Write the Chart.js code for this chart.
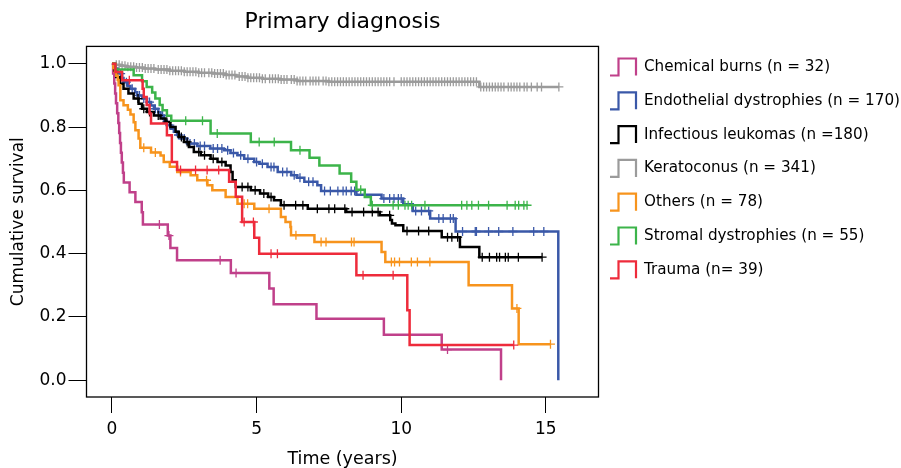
<!DOCTYPE html>
<html><head><meta charset="utf-8">
<script src="https://cdn.jsdelivr.net/npm/chart.js@4.4.1/dist/chart.umd.min.js"></script>
<style>html,body{margin:0;padding:0;background:#fff;}#wrap{width:901px;height:468px;}</style>
</head><body><div id="wrap"><canvas id="c" width="901" height="468"></canvas></div>
<script>
// ---------- data ----------
const chartTitle = 'Primary diagnosis';
const xTitle = 'Time (years)';
const yTitle = 'Cumulative survival';
const xTickValues = [0, 5, 10, 15];
const xTickLabels = ['0', '5', '10', '15'];
const yTickValues = [0, 0.2, 0.4, 0.6, 0.8, 1.0];
const yTickLabels = ['0.0', '0.2', '0.4', '0.6', '0.8', '1.0'];

const categories = ['Chemical burns (n = 32)', 'Endothelial dystrophies (n = 170)', 'Infectious leukomas (n =180)',
  'Keratoconus (n = 341)', 'Others (n = 78)', 'Stromal dystrophies (n = 55)', 'Trauma (n= 39)'];
const colors = ['#C0408A', '#3A58A8', '#000000', '#9B9B9B', '#F7941D', '#3CB44A', '#EE2B3B'];

const chemTimes = [0, 0.04, 0.08, 0.11, 0.14, 0.18, 0.22, 0.25, 0.28, 0.31, 0.34, 0.38, 0.41, 0.61, 0.81, 1.03, 1.07, 1.93, 2.02, 2.25, 4.11, 5.44, 5.59, 7.07, 9.4, 11.4, 13.45];
const chemSurv = [1, 0.969, 0.938, 0.906, 0.875, 0.844, 0.813, 0.781, 0.75, 0.719, 0.688, 0.656, 0.625, 0.594, 0.563, 0.531, 0.492, 0.457, 0.418, 0.379, 0.339, 0.29, 0.24, 0.194, 0.144, 0.097, 0];
const chemCensor = [1.64, 1.97, 3.74, 4.29, 11.6];

const endoTimes = [0, 0.1, 0.2, 0.35, 0.4, 0.55, 0.64, 0.8, 0.87, 1.05, 1.21, 1.35, 1.45, 1.6, 1.68, 1.8, 1.9, 2.05, 2.14, 2.25, 2.37, 2.6, 2.95, 3.4, 3.87, 4.1, 4.34, 4.57, 4.92, 5.1, 5.38, 5.73, 6.2, 6.4, 6.65, 7.1, 7.23, 8.45, 9.32, 10.07, 10.4, 11.0, 11.88, 15.43];
const endoSurv = [1, 0.985, 0.969, 0.955, 0.942, 0.93, 0.921, 0.91, 0.9, 0.89, 0.879, 0.868, 0.858, 0.847, 0.837, 0.82, 0.806, 0.795, 0.785, 0.775, 0.764, 0.748, 0.74, 0.732, 0.727, 0.718, 0.711, 0.7, 0.69, 0.684, 0.674, 0.658, 0.648, 0.64, 0.627, 0.616, 0.598, 0.586, 0.574, 0.556, 0.535, 0.511, 0.47, 0];
const endoCensor = [0.3, 0.5, 0.7, 0.95, 1.1, 1.3, 1.5, 1.75, 2.0, 2.3, 2.5, 2.7, 2.85, 3.05, 3.2, 3.5, 3.65, 3.8, 4.0, 4.2, 4.45, 4.7, 5.0, 5.2, 5.5, 5.6, 5.9, 6.05, 6.3, 6.5, 6.8, 6.95, 7.35, 7.55, 7.81, 7.99, 8.1, 8.27, 8.39, 9.4, 9.6, 9.75, 9.9, 10.0, 10.5, 10.7, 10.95, 11.3, 11.45, 11.7, 11.8, 12.12, 12.56, 12.6, 13.02, 13.37, 13.86, 14.58, 14.93];

const infTimes = [0, 0.08, 0.15, 0.28, 0.4, 0.57, 0.75, 0.92, 1.04, 1.21, 1.45, 1.68, 1.85, 2.02, 2.2, 2.31, 2.49, 2.66, 2.83, 3.07, 3.41, 3.65, 3.93, 4.1, 4.17, 4.28, 4.8, 5.12, 5.4, 5.6, 5.84, 6.77, 8.1, 9.26, 9.62, 9.68, 9.8, 10.07, 11.4, 12.03, 12.7, 14.87];
const infSurv = [1, 0.979, 0.958, 0.937, 0.921, 0.906, 0.89, 0.874, 0.858, 0.848, 0.837, 0.827, 0.816, 0.8, 0.785, 0.769, 0.753, 0.737, 0.721, 0.711, 0.7, 0.69, 0.679, 0.658, 0.632, 0.611, 0.6, 0.59, 0.579, 0.569, 0.553, 0.542, 0.532, 0.521, 0.506, 0.495, 0.49, 0.472, 0.452, 0.421, 0.389, 0.389];
const infCensor = [0.9, 1.1, 1.3, 1.6, 1.9, 2.4, 2.6, 3.0, 3.2, 3.5, 3.8, 4.5, 4.7, 4.95, 5.25, 5.5, 5.95, 6.35, 6.6, 7.1, 7.5, 7.7, 8.05, 8.3, 8.7, 9.0, 9.2, 9.6, 10.2, 10.6, 10.95, 11.6, 11.75, 11.95, 12.8, 13.05, 13.3, 13.4, 13.6, 13.7, 14.05, 14.87];

const kerTimes = [0, 0.1, 0.3, 0.5, 0.8, 1.1, 1.5, 2.0, 2.5, 3.0, 3.5, 3.9, 4.3, 4.7, 5.2, 5.8, 6.4, 7.5, 12.7, 15.45];
const kerSurv = [1, 0.997, 0.994, 0.991, 0.988, 0.985, 0.982, 0.978, 0.975, 0.972, 0.969, 0.965, 0.96, 0.956, 0.953, 0.95, 0.946, 0.943, 0.927, 0.927];
const kerCensor = [0.15, 0.25, 0.35, 0.45, 0.55, 0.65, 0.75, 0.85, 0.95, 1.05, 1.15, 1.25, 1.35, 1.45, 1.6, 1.7, 1.8, 1.9, 2.0, 2.1, 2.2, 2.3, 2.4, 2.5, 2.6, 2.7, 2.8, 2.9, 3.0, 3.1, 3.2, 3.35, 3.45, 3.55, 3.65, 3.75, 3.85, 3.95, 4.05, 4.15, 4.25, 4.4, 4.5, 4.6, 4.7, 4.8, 4.9, 5.0, 5.1, 5.2, 5.3, 5.45, 5.55, 5.65, 5.75, 5.85, 5.95, 6.05, 6.2, 6.3, 6.4, 6.5, 6.6, 6.7, 6.85, 6.95, 7.05, 7.15, 7.3, 7.4, 7.5, 7.6, 7.7, 7.8, 7.9, 8.0, 8.1, 8.2, 8.3, 8.4, 8.5, 8.6, 8.7, 8.8, 8.9, 9.0, 9.1, 9.2, 9.3, 9.4, 9.5, 9.6, 9.75, 10.0, 10.1, 10.2, 10.3, 10.4, 10.5, 10.6, 10.7, 10.8, 10.9, 11.0, 11.1, 11.2, 11.3, 11.4, 11.5, 11.6, 11.7, 11.8, 11.9, 12.0, 12.1, 12.2, 12.3, 12.4, 12.5, 12.6, 12.75, 12.85, 12.95, 13.05, 13.15, 13.25, 13.35, 13.45, 13.55, 13.7, 13.8, 13.9, 14.0, 14.1, 14.25, 14.35, 14.5, 14.7, 14.85, 15.45];

const othTimes = [0, 0.05, 0.1, 0.15, 0.2, 0.23, 0.29, 0.4, 0.55, 0.64, 0.75, 0.81, 0.92, 0.98, 1.35, 1.68, 1.79, 2.0, 2.26, 2.72, 2.95, 3.3, 3.47, 3.93, 4.34, 4.92, 5.84, 6.0, 6.17, 6.19, 7.0, 9.32, 9.45, 12.33, 13.83, 14.06, 15.16];
const othSurv = [1, 0.987, 0.974, 0.962, 0.949, 0.932, 0.885, 0.869, 0.855, 0.84, 0.815, 0.79, 0.764, 0.735, 0.72, 0.71, 0.69, 0.675, 0.658, 0.648, 0.632, 0.616, 0.6, 0.579, 0.558, 0.542, 0.516, 0.5, 0.484, 0.458, 0.437, 0.405, 0.374, 0.3, 0.227, 0.114, 0.114];
const othCensor = [1.1, 1.5, 2.37, 3.27, 4.57, 4.69, 5.43, 6.36, 7.23, 7.4, 8.28, 8.37, 9.66, 9.77, 9.94, 10.35, 10.56, 10.99, 14.0, 15.16];

const strTimes = [0, 0.12, 0.75, 1.04, 1.2, 1.39, 1.5, 1.65, 1.75, 1.9, 2.05, 3.41, 4.8, 6.19, 6.83, 7.17, 7.87, 8.27, 8.45, 8.74, 8.95, 14.35];
const strSurv = [1, 0.982, 0.964, 0.945, 0.927, 0.909, 0.89, 0.87, 0.853, 0.836, 0.82, 0.78, 0.753, 0.727, 0.703, 0.679, 0.653, 0.627, 0.602, 0.579, 0.553, 0.553];
const strCensor = [2.55, 3.13, 3.64, 5.09, 5.61, 6.5, 8.6, 9.0, 9.72, 9.9, 10.13, 10.24, 10.36, 10.82, 12.09, 12.27, 12.44, 12.67, 13.02, 13.66, 13.94, 14.06, 14.24, 14.35];

const traTimes = [0, 0.12, 0.35, 1.06, 1.1, 1.2, 1.3, 1.35, 1.9, 2.07, 2.25, 4.05, 4.28, 4.5, 4.92, 5.09, 8.45, 10.21, 10.29, 13.89];
const traSurv = [1, 0.974, 0.948, 0.921, 0.895, 0.87, 0.843, 0.811, 0.774, 0.69, 0.664, 0.627, 0.58, 0.5, 0.45, 0.4, 0.332, 0.221, 0.111, 0.111];
const traCensor = [0.6, 2.37, 2.89, 3.29, 3.69, 4.57, 4.89, 5.5, 5.72, 8.68, 9.72, 13.89];

const seriesTimes = [chemTimes, endoTimes, infTimes, kerTimes, othTimes, strTimes, traTimes];
const seriesSurv = [chemSurv, endoSurv, infSurv, kerSurv, othSurv, strSurv, traSurv];
const seriesCensor = [chemCensor, endoCensor, infCensor, kerCensor, othCensor, strCensor, traCensor];

// ---------- chart ----------
const FONT = "'DejaVu Sans', 'Liberation Sans', sans-serif";
function survAt(times, surv, t) {
  let s = surv[0];
  for (let i = 0; i < times.length; i++) { if (times[i] <= t) s = surv[i]; else break; }
  return s;
}
const datasets = [];
categories.forEach((name, i) => {
  const T = seriesTimes[i], S = seriesSurv[i];
  datasets.push({
    label: name, isCurve: true,
    data: T.map((t, k) => ({ x: t, y: S[k] })),
    stepped: 'before', borderColor: colors[i], borderWidth: 2.5,
    pointRadius: 0, fill: false, order: 100 - 2 * i
  });
  datasets.push({
    label: '', isCurve: false,
    data: seriesCensor[i].map(t => ({ x: t, y: survAt(T, S, t) })),
    showLine: false, pointStyle: 'cross', pointRadius: 4.5, pointBorderWidth: 1.3,
    borderColor: colors[i], backgroundColor: colors[i], order: 99 - 2 * i
  });
});

const boxPlugin = {
  id: 'box',
  afterDatasetsDraw(chart) {
    const a = chart.chartArea, ctx = chart.ctx;
    ctx.save(); ctx.strokeStyle = '#000'; ctx.lineWidth = 1.3;
    ctx.strokeRect(a.left, a.top, a.right - a.left, a.bottom - a.top);
    ctx.restore();
  }
};
const legendPlugin = {
  id: 'stepLegend',
  afterDraw(chart) {
    const ctx = chart.ctx;
    const curves = chart.data.datasets.filter(d => d.isCurve);
    ctx.save();
    ctx.font = "15.2px " + FONT; ctx.textBaseline = 'middle'; ctx.textAlign = 'left';
    curves.forEach((d, i) => {
      const y = 67 + i * 33.8;
      ctx.strokeStyle = d.borderColor; ctx.lineWidth = 2.2; ctx.lineJoin = 'miter';
      ctx.beginPath();
      ctx.moveTo(610, y + 8.5); ctx.lineTo(618.5, y + 8.5); ctx.lineTo(618.5, y - 8.5);
      ctx.lineTo(636, y - 8.5); ctx.lineTo(636, y + 8.5); ctx.stroke();
      ctx.fillStyle = '#000';
      ctx.fillText(d.label, 644, y);
    });
    ctx.restore();
  }
};

Chart.defaults.color = '#000';
new Chart(document.getElementById('c'), {
  type: 'line',
  data: { datasets },
  plugins: [boxPlugin, legendPlugin],
  options: {
    responsive: false, animation: false, devicePixelRatio: 1,
    layout: { padding: { left: 0, right: 302.5, top: 0, bottom: 0 } },
    plugins: {
      legend: { display: false }, tooltip: { enabled: false },
      title: { display: true, text: chartTitle, fullSize: false, color: '#000',
        font: { family: FONT, size: 22, weight: 'normal' }, padding: { top: 9, bottom: 11 } }
    },
    scales: {
      x: {
        type: 'linear', min: -0.88, max: 16.82,
        afterBuildTicks: s => { s.ticks = xTickValues.map(v => ({ value: v })); },
        afterFit: s => { s.height = 71; },
        grid: { drawOnChartArea: false, drawTicks: true, tickLength: 16, color: '#000', lineWidth: 1 },
        border: { display: false },
        ticks: { font: { family: FONT, size: 17 }, color: '#000', padding: 6, maxRotation: 0, autoSkip: false,
          callback: (v, i) => xTickLabels[i] },
        title: { display: true, text: xTitle, color: '#000', font: { family: FONT, size: 17.5 }, padding: { top: 0, bottom: -2 } }
      },
      y: {
        type: 'linear', min: -0.053, max: 1.055,
        afterBuildTicks: s => { s.ticks = yTickValues.map(v => ({ value: v })); },
        afterFit: s => { s.width = 86.5; },
        grid: { drawOnChartArea: false, drawTicks: true, tickLength: 18, color: '#000', lineWidth: 1 },
        border: { display: false },
        ticks: { font: { family: FONT, size: 17 }, color: '#000', padding: 2, autoSkip: false,
          callback: (v, i) => yTickLabels[i] },
        title: { display: true, text: yTitle, color: '#000', font: { family: FONT, size: 17 }, padding: { top: 8, bottom: 0 } }
      }
    }
  }
});
</script></body></html>
